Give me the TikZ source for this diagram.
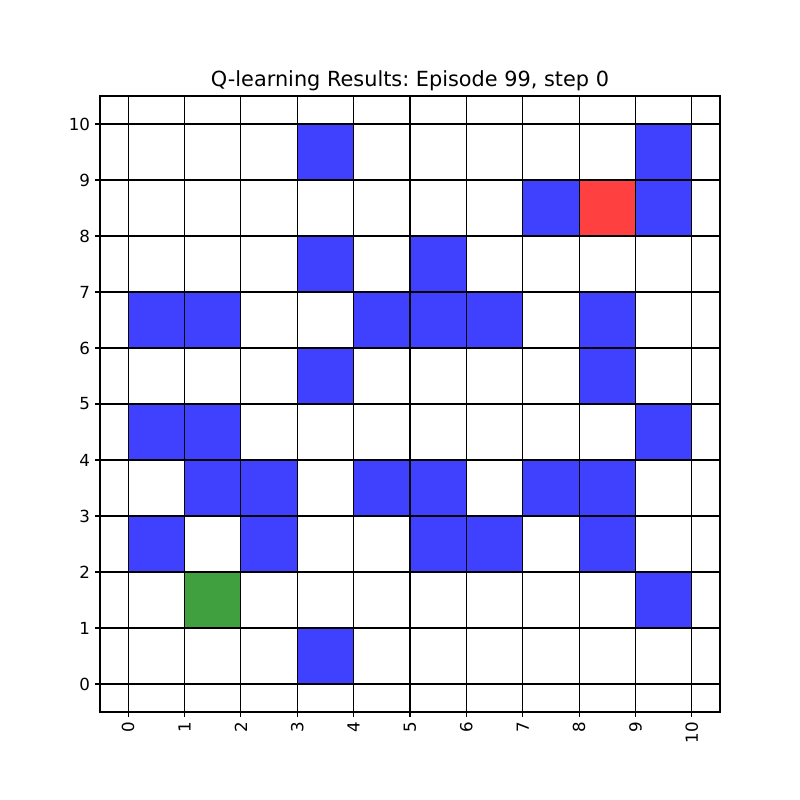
\documentclass[tikz,border=0pt]{standalone}
\usepackage{fontspec}
\setmainfont{DejaVu Sans}
\frenchspacing
\definecolor{cblue}{RGB}{64,64,255}
\definecolor{cred}{RGB}{255,64,64}
\definecolor{cgreen}{RGB}{64,160,64}
\tikzset{
  gridline/.style={line width=0.8pt, black},
  tickmark/.style={line width=0.8pt, black},
  ylab/.style={anchor=east, inner sep=0pt, font=\fontsize{12}{14}\selectfont},
  xlab/.style={anchor=east, rotate=90, inner sep=0pt, font=\fontsize{12}{14}\selectfont},
  titletext/.style={anchor=base, inner sep=0pt, font=\fontsize{15}{18}\selectfont}
}
\begin{document}
\begin{tikzpicture}[x=40.582pt,y=40.32pt]
\useasboundingbox (-2.2742,-2.0714) rectangle (11.9193,12.2143);
\fill[white] (-2.2742,-2.0714) rectangle (11.9193,12.2143);
\foreach \c/\r in {3/9,9/9,7/8,9/8,3/7,5/7,0/6,1/6,4/6,5/6,6/6,8/6,3/5,8/5,0/4,1/4,9/4,1/3,2/3,4/3,5/3,7/3,8/3,0/2,2/2,5/2,6/2,8/2,9/1,3/0}
  \fill[cblue] (\c,\r) rectangle ++(1,1);
\fill[cred] (8,8) rectangle ++(1,1);
\fill[cgreen] (1,1) rectangle ++(1,1);
\foreach \i in {0,...,10} {
  \draw[gridline] (\i,-0.5) -- (\i,10.5);
  \draw[gridline] (-0.5,\i) -- (10.5,\i);
  \draw[tickmark] (-0.5,\i) -- ++(-3.5pt,0);
  \node[ylab] (yl\i) at ([xshift=-7pt]-0.5,\i) {\i};
  \draw[tickmark] (\i,-0.5) -- ++(0,-3.5pt);
  \node[xlab] (xl\i) at ([yshift=-7pt]\i,-0.5) {\i};
}
\draw[gridline] (-0.5,-0.5) rectangle (10.5,10.5);
\node[titletext] (title) at (5,10.6607) {Q-learning Results: Episode 99, step 0};
\end{tikzpicture}
\end{document}
